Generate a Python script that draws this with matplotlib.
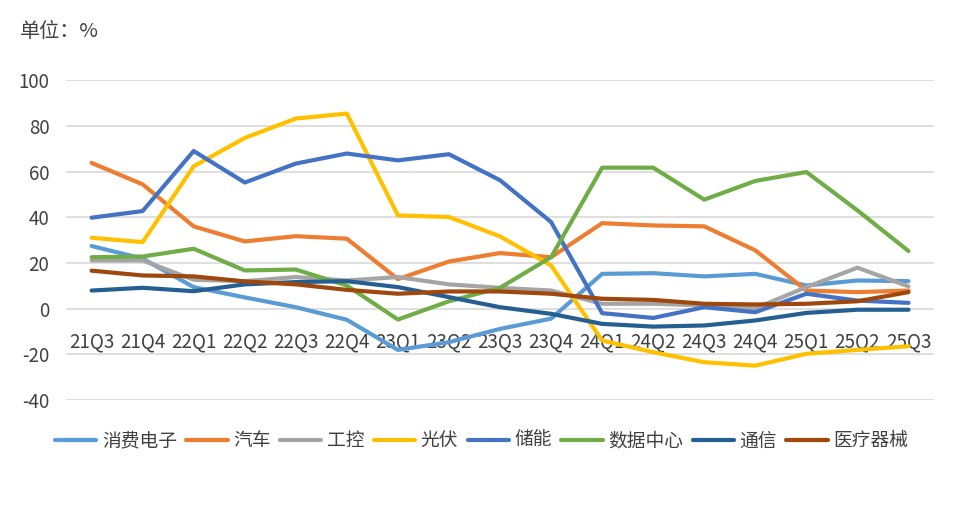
import matplotlib.pyplot as plt

plt.rcParams['font.family'] = ['Noto Sans CJK SC', 'DejaVu Sans']
plt.rcParams['axes.unicode_minus'] = False

# quarters on the x axis
quarters = ['21Q3', '21Q4', '22Q1', '22Q2', '22Q3', '22Q4', '23Q1', '23Q2', '23Q3',
            '23Q4', '24Q1', '24Q2', '24Q3', '24Q4', '25Q1', '25Q2', '25Q3']

# values (%)
consumer = [27.5, 22, 9.5, 5, 0.7, -4.8, -18, -14.6, -8.8, -4.3, 15.3, 15.6, 14.2, 15.3, 10.2, 12.4, 12.1]
auto = [63.9, 54.5, 36.1, 29.5, 31.8, 30.7, 13, 20.7, 24.4, 22.6, 37.5, 36.5, 36.1, 25.6, 8, 7.3, 8]
industrial = [21.2, 21.2, 12.7, 12.1, 13.9, 12.4, 13.9, 10.7, 9.2, 8, 2.2, 2.2, 1.5, 0.2, 9.5, 18, 9.8]
pv = [31.1, 29.2, 62.4, 74.8, 83.3, 85.5, 40.9, 40.2, 31.7, 19, -13.9, -19, -23.4, -24.9, -19.7, -18, -16.4]
storage = [39.9, 42.8, 69.1, 55.3, 63.6, 68, 65, 67.7, 56.3, 38, -1.9, -4, 0.7, -1.5, 6.6, 3.6, 2.6]
datacenter = [22.6, 22.9, 26.3, 16.8, 17.2, 10.2, -4.7, 3.3, 9.2, 22.6, 61.8, 61.8, 47.8, 56, 59.9, 43.1, 25.3]
telecom = [8, 9.2, 7.7, 10.7, 11.7, 12.1, 9.5, 5.1, 0.7, -2.2, -6.6, -7.8, -7.3, -5.1, -1.8, -0.4, -0.4]
medical = [16.7, 14.6, 14.2, 12, 10.7, 8.3, 6.6, 7.6, 7.6, 6.6, 4.4, 3.9, 2.2, 1.9, 2.2, 3.3, 7.3]

series = [
    ('消费电子', consumer, '#5B9BD5'),
    ('汽车', auto, '#ED7D31'),
    ('工控', industrial, '#A5A5A5'),
    ('光伏', pv, '#FFC000'),
    ('储能', storage, '#4472C4'),
    ('数据中心', datacenter, '#70AD47'),
    ('通信', telecom, '#255E91'),
    ('医疗器械', medical, '#9E480E'),
]

fig = plt.figure(figsize=(9.57, 5.19), dpi=100)
ax = fig.add_axes([0.069, 0.229, 0.907, 0.616])

x = list(range(len(quarters)))
for name, vals, col in series:
    ax.plot(x, vals, color=col, lw=3, label=name, solid_capstyle='round', solid_joinstyle='round')

ax.set_xlim(-0.5, len(quarters) - 0.5)
ax.set_ylim(-40, 100)
ax.set_yticks(range(-40, 101, 20))
ax.grid(axis='y', color='#D9D9D9', lw=1.2)
ax.set_axisbelow(True)

for s in ['top', 'right', 'left']:
    ax.spines[s].set_visible(False)
ax.spines['bottom'].set_position(('data', 0))
ax.spines['bottom'].set_visible(False)

ax.set_xticks(x)
ax.set_xticklabels(quarters)
ax.tick_params(axis='x', length=0, pad=16, labelsize=13.5, labelcolor='#404040')
ax.tick_params(axis='y', length=0, pad=12, labelsize=13.5, labelcolor='#404040')

fig.text(0.021, 0.94, '单位：%', fontsize=14.5, color='#404040', va='center', ha='left')

ax.legend(loc='center', bbox_to_anchor=(0.479, -0.127), ncol=8, frameon=False,
          fontsize=13.5, handlelength=2.2, handletextpad=0.3, columnspacing=0.5,
          labelcolor='#404040')

fig.savefig('out.png', dpi=100)
